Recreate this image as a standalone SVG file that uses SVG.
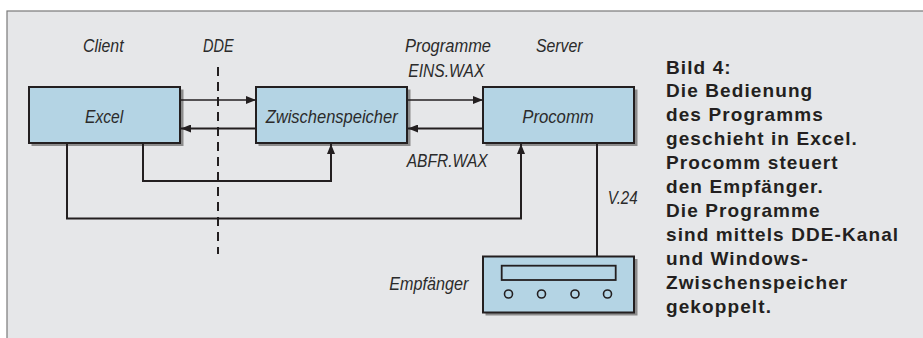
<svg xmlns="http://www.w3.org/2000/svg" width="923" height="338" viewBox="0 0 923 338">
  <defs>
    <style>
      .lbl { font-family: "Liberation Sans", Arial, sans-serif; font-style: italic; font-size: 18.5px; fill: #2b2b2b; }
      .cap { font-family: "Liberation Sans", Arial, sans-serif; font-weight: bold; font-size: 19px; letter-spacing: 1.1px; fill: #231f20; }
      .box { fill: #b4d4e4; stroke: #231f20; stroke-width: 2; }
      .shadow { fill: #8c8c8c; }
      .con { fill: none; stroke: #231f20; stroke-width: 2; }
      .thin { stroke-width: 1.6; }
      .dde { fill: none; stroke: #231f20; stroke-width: 2; stroke-dasharray: 9 6; }
    </style>
    <marker id="ah" markerUnits="userSpaceOnUse" markerWidth="10" markerHeight="8" refX="10" refY="4" orient="auto">
      <path d="M0,0 L10,4 L0,8 z" fill="#231f20"/>
    </marker>
  </defs>

  <rect x="0" y="0" width="923" height="338" fill="#ffffff"/>
  <rect x="7" y="11" width="920" height="332" fill="#e6e7e9" stroke="#7a7a7a" stroke-width="1.2"/>

  <g id="labels">
    <text class="lbl" x="83" y="52.3" textLength="40.6" lengthAdjust="spacingAndGlyphs">Client</text>
    <text class="lbl" x="203" y="52.3" textLength="30.6" lengthAdjust="spacingAndGlyphs">DDE</text>
    <text class="lbl" x="405" y="52.3" textLength="86" lengthAdjust="spacingAndGlyphs">Programme</text>
    <text class="lbl" x="536" y="52.3" textLength="46.6" lengthAdjust="spacingAndGlyphs">Server</text>
    <text class="lbl" x="408.3" y="76.7" textLength="76" lengthAdjust="spacingAndGlyphs">EINS.WAX</text>
    <text class="lbl" x="406.7" y="167.3" textLength="81" lengthAdjust="spacingAndGlyphs">ABFR.WAX</text>
    <text class="lbl" x="607.7" y="204.3" textLength="30" lengthAdjust="spacingAndGlyphs">V.24</text>
  </g>

  <path id="dde-line" class="dde" d="M218,67 V254"/>

  <g id="excel">
    <rect class="shadow" x="31.5" y="89.5" width="152" height="56.5"/>
    <rect class="box" x="29" y="87" width="151" height="56"/>
    <text class="lbl" x="85" y="123.3" textLength="38.3" lengthAdjust="spacingAndGlyphs">Excel</text>
  </g>

  <g id="zwischenspeicher">
    <rect class="shadow" x="258.5" y="89.5" width="152" height="56.5"/>
    <rect class="box" x="256" y="87" width="151" height="56"/>
    <text class="lbl" x="265.7" y="123.3" textLength="132" lengthAdjust="spacingAndGlyphs">Zwischenspeicher</text>
  </g>

  <g id="procomm">
    <rect class="shadow" x="485.5" y="89.5" width="152" height="56.5"/>
    <rect class="box" x="483" y="87" width="151" height="56"/>
    <text class="lbl" x="522.3" y="123.3" textLength="71.4" lengthAdjust="spacingAndGlyphs">Procomm</text>
  </g>

  <g id="empfaenger">
    <rect class="shadow" x="485.5" y="259" width="152" height="56.5"/>
    <rect class="box" x="483" y="256.5" width="151" height="56"/>
    <rect x="501.7" y="265.7" width="114" height="14.3" fill="#b4d4e4" stroke="#231f20" stroke-width="1.8"/>
    <g fill="none" stroke="#231f20" stroke-width="1.6">
      <circle cx="508.5" cy="294" r="4"/>
      <circle cx="541.5" cy="294" r="4"/>
      <circle cx="575" cy="294" r="4"/>
      <circle cx="607.5" cy="294" r="4"/>
    </g>
    <text class="lbl" x="389.3" y="290" textLength="79" lengthAdjust="spacingAndGlyphs">Empfänger</text>
  </g>

  <g id="connectors">
    <path class="con thin" d="M181,100 H256" marker-end="url(#ah)"/>
    <path class="con" d="M256,128.5 H181" marker-end="url(#ah)"/>
    <path class="con thin" d="M408,100 H483" marker-end="url(#ah)"/>
    <path class="con" d="M483,128.5 H408" marker-end="url(#ah)"/>
    <path class="con" d="M143,144 V181 H331 V144" marker-end="url(#ah)"/>
    <path class="con" d="M67,144 V218.5 H521 V144" marker-end="url(#ah)"/>
    <path class="con" d="M597,144 V256"/>
  </g>

  <g id="caption">
    <text class="cap" x="666" y="73.5">Bild 4:</text>
    <text class="cap" x="666" y="97.4">Die Bedienung</text>
    <text class="cap" x="666" y="121.3">des Programms</text>
    <text class="cap" x="666" y="145.2">geschieht in Excel.</text>
    <text class="cap" x="666" y="169.1">Procomm steuert</text>
    <text class="cap" x="666" y="193">den Empfänger.</text>
    <text class="cap" x="666" y="216.9">Die Programme</text>
    <text class="cap" x="666" y="240.8">sind mittels DDE-Kanal</text>
    <text class="cap" x="666" y="264.7">und Windows-</text>
    <text class="cap" x="666" y="288.6">Zwischenspeicher</text>
    <text class="cap" x="666" y="312.5">gekoppelt.</text>
  </g>
</svg>
